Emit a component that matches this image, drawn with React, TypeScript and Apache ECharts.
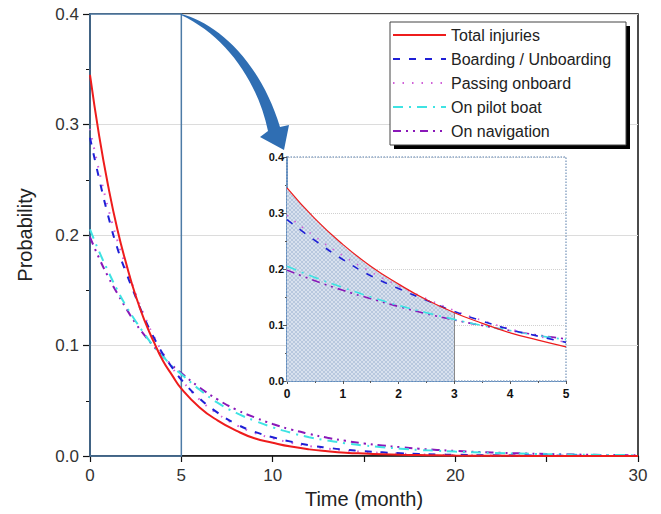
import React, { useEffect, useRef } from 'react';
import * as echarts from 'echarts';

const TIME = [0, 0.5, 1, 1.5, 2, 2.5, 3, 3.5, 4, 4.5, 5, 6, 7, 8, 9, 10, 11, 12, 13, 14, 15, 16, 17, 18, 19, 20, 22, 24, 26, 28, 30];
const TOTAL = [0.345, 0.290, 0.244, 0.205, 0.173, 0.145, 0.122, 0.103, 0.086, 0.073, 0.061, 0.044, 0.032, 0.023, 0.016, 0.012, 0.0085, 0.006, 0.0043, 0.003, 0.0022, 0.0016, 0.0011, 0.0008, 0.0006, 0.0004, 0.0002, 0.0001, 0.0001, 0, 0];
const BOARDING = [0.288, 0.251, 0.217, 0.188, 0.165, 0.144, 0.124, 0.107, 0.092, 0.080, 0.069, 0.052, 0.039, 0.029, 0.022, 0.017, 0.013, 0.0098, 0.0075, 0.0057, 0.0043, 0.0033, 0.0025, 0.0019, 0.0014, 0.0011, 0.0006, 0.0004, 0.0002, 0.0001, 0.0001];
const PASSING = [0.296, 0.258, 0.224, 0.195, 0.170, 0.147, 0.126, 0.108, 0.093, 0.080, 0.069, 0.051, 0.038, 0.028, 0.021, 0.016, 0.012, 0.009, 0.0067, 0.005, 0.0037, 0.0028, 0.0021, 0.0015, 0.0011, 0.0008, 0.0005, 0.0003, 0.0002, 0.0001, 0.0001];
const PILOT = [0.205, 0.185, 0.167, 0.150, 0.135, 0.122, 0.110, 0.099, 0.090, 0.081, 0.074, 0.060, 0.048, 0.039, 0.032, 0.026, 0.021, 0.017, 0.014, 0.0115, 0.0095, 0.008, 0.0066, 0.0055, 0.0048, 0.004, 0.0028, 0.002, 0.0014, 0.001, 0.0007];
const NAVIGATION = [0.198, 0.179, 0.162, 0.147, 0.133, 0.120, 0.109, 0.099, 0.090, 0.082, 0.075, 0.062, 0.051, 0.042, 0.035, 0.029, 0.024, 0.020, 0.0165, 0.0137, 0.0114, 0.0095, 0.008, 0.0066, 0.0055, 0.0046, 0.0032, 0.0022, 0.0015, 0.001, 0.0007];

const NAMES = ['Total injuries', 'Boarding / Unboarding', 'Passing onboard', 'On pilot boat', 'On navigation'];
const COLORS = ['#ee1c1c', '#1f1fd6', '#d060d8', '#3fe3e3', '#8a18b8'];
const DASHES: any[] = ['solid', [7, 9], [1.5, 8], [10, 6, 2, 6], [8, 5, 2, 5, 2, 5]];
const VALUES = [TOTAL, BOARDING, PASSING, PILOT, NAVIGATION];

const SHADE_END = 3;
const ZOOM_END = 5;

const ARROW_D =
  'M181,14 C215,22 260,60 280,127 L289,125 L284,150 L260,137 L268,131 C258,82 226,36 181,15 Z';

function makePattern() {
  const c = document.createElement('canvas');
  c.width = 4;
  c.height = 4;
  const g = c.getContext('2d')!;
  g.fillStyle = '#d8e1ee';
  g.fillRect(0, 0, 4, 4);
  g.fillStyle = '#b8c8de';
  for (let i = 0; i < 4; i++) {
    g.fillRect(i, i, 1, 1);
    g.fillRect(3 - i, i, 1, 1);
  }
  return c;
}

export default function App() {
  const ref = useRef<HTMLDivElement>(null);
  useEffect(() => {
    echarts.graphic.registerShape('logo', echarts.graphic.extendPath(ARROW_D, {}) as any);
    const chart = echarts.init(ref.current!, null, { renderer: 'svg' });
    const font = 'Liberation Sans';

    const pairs = (vals: number[], maxT = Infinity) =>
      TIME.map((t, i) => [t, vals[i]]).filter((p) => p[0] <= maxT);

    const mainSeries = VALUES.map((vals, i) => ({
      name: NAMES[i],
      type: 'line',
      xAxisIndex: 0,
      yAxisIndex: 0,
      data: pairs(vals),
      smooth: true,
      symbol: 'none',
      z: 3 + (4 - i),
      lineStyle: { color: COLORS[i], width: 2, type: DASHES[i] },
      itemStyle: { color: COLORS[i] },
      ...(i === 0
        ? {
            markArea: {
              silent: true,
              itemStyle: { color: 'rgba(0,0,0,0)', borderColor: '#4d7ba6', borderWidth: 1.5 },
              data: [[{ coord: [0, 0] }, { coord: [ZOOM_END, 0.4] }]],
            },
          }
        : {}),
    }));

    const insetSeries = VALUES.map((vals, i) => ({
      name: NAMES[i],
      type: 'line',
      xAxisIndex: 1,
      yAxisIndex: 1,
      data: pairs(vals, ZOOM_END),
      smooth: true,
      symbol: 'none',
      z: 4 + (4 - i),
      lineStyle: { color: COLORS[i], width: i === 0 ? 1.2 : 1.6, type: DASHES[i] },
      itemStyle: { color: COLORS[i] },
    }));

    const shade = {
      name: 'shade',
      type: 'line',
      xAxisIndex: 1,
      yAxisIndex: 1,
      data: pairs(TOTAL, SHADE_END),
      smooth: true,
      symbol: 'none',
      z: 2,
      lineStyle: { width: 0 },
      areaStyle: { color: { image: makePattern(), repeat: 'repeat' }, opacity: 1 },
      markLine: {
        silent: true,
        symbol: 'none',
        label: { show: false },
        lineStyle: { color: '#8a8a8a', type: 'solid', width: 1 },
        data: [[{ coord: [SHADE_END, 0] }, { coord: [SHADE_END, TOTAL[TIME.indexOf(SHADE_END)]] }]],
      },
      markArea: {
        silent: true,
        itemStyle: { color: 'rgba(0,0,0,0)', borderColor: '#8ea8c6', borderWidth: 1.5, borderType: 'dotted' },
        data: [[{ coord: [0, 0] }, { coord: [ZOOM_END, 0.4] }]],
      },
    };

    chart.setOption({
      animation: false,
      backgroundColor: '#ffffff',
      grid: [
        { left: 90, top: 14, width: 548, height: 442, show: true, borderColor: '#111', borderWidth: 1.5 },
        { left: 287, top: 157, width: 279, height: 224 },
      ],
      xAxis: [
        {
          type: 'value',
          gridIndex: 0,
          min: 0,
          max: 30,
          interval: 5,
          name: 'Time (month)',
          nameLocation: 'middle',
          nameGap: 33,
          nameTextStyle: { fontFamily: font, fontSize: 20, color: '#222' },
          axisLine: { show: true, lineStyle: { color: '#111', width: 1.5 } },
          axisTick: { show: true, length: 6, lineStyle: { color: '#111', width: 1.2 } },
          axisLabel: {
            fontFamily: font,
            fontSize: 17,
            color: '#333',
            margin: 11,
            formatter: (v: number) => (v === 15 || v === 25 ? '' : String(v)),
          },
          splitLine: { show: false },
        },
        {
          type: 'value',
          gridIndex: 1,
          min: 0,
          max: ZOOM_END,
          interval: 1,
          axisLine: { show: true, lineStyle: { color: '#5f8cbf', width: 1.2 } },
          axisTick: { show: true, length: 3, lineStyle: { color: '#555' } },
          minorTick: { show: true, splitNumber: 2, length: 2, lineStyle: { color: '#555' } },
          axisLabel: { fontFamily: font, fontSize: 12, fontWeight: 'bold', color: '#111', margin: 7 },
          splitLine: { show: false },
        },
      ],
      yAxis: [
        {
          type: 'value',
          gridIndex: 0,
          min: 0,
          max: 0.4,
          interval: 0.1,
          name: 'Probability',
          nameLocation: 'middle',
          nameGap: 55,
          nameTextStyle: { fontFamily: font, fontSize: 20, color: '#222' },
          axisLine: { show: true, lineStyle: { color: '#111', width: 1.5 } },
          axisTick: { show: true, length: 7, lineStyle: { color: '#111', width: 1.2 } },
          minorTick: { show: true, splitNumber: 2, length: 4, lineStyle: { color: '#111' } },
          axisLabel: {
            fontFamily: font,
            fontSize: 17,
            color: '#333',
            margin: 11,
            formatter: (v: number) => v.toFixed(1),
          },
          splitLine: { show: true, lineStyle: { color: '#dcdcdc', width: 1 } },
        },
        {
          type: 'value',
          gridIndex: 1,
          min: 0,
          max: 0.4,
          interval: 0.1,
          axisLine: { show: true, lineStyle: { color: '#5f8cbf', width: 2 } },
          axisTick: { show: true, length: 4, lineStyle: { color: '#555' } },
          minorTick: { show: true, splitNumber: 2, length: 2, lineStyle: { color: '#555' } },
          axisLabel: {
            fontFamily: font,
            fontSize: 11,
            fontWeight: 'bold',
            color: '#111',
            margin: 3,
            formatter: (v: number) => v.toFixed(1),
          },
          splitLine: { show: true, lineStyle: { color: '#d0d0d0', type: 'dotted', width: 1 } },
        },
      ],
      legend: {
        data: NAMES,
        orient: 'vertical',
        left: 392,
        top: 27,
        padding: 0,
        itemWidth: 53,
        itemHeight: 15,
        itemGap: 8,
        z: 10,
        itemStyle: { opacity: 0, borderWidth: 0 },
        textStyle: { fontFamily: font, fontSize: 16, color: '#222' },
      },
      graphic: [
        { type: 'rect', z: 8, shape: { x: 394, y: 26, width: 236, height: 123 }, style: { fill: '#000' } },
        { type: 'rect', z: 9, shape: { x: 390, y: 22, width: 236, height: 123 }, style: { fill: '#fff', stroke: '#444', lineWidth: 1 } },
        { type: 'logo', z: 12, x: 0, y: 0, style: { fill: '#2f6eb3' } },
      ],
      series: [...mainSeries, shade, ...insetSeries],
    });
    return () => chart.dispose();
  }, []);
  return <div ref={ref} style={{ position: 'fixed', left: 0, top: 0, width: 661, height: 514 }} />;
}
